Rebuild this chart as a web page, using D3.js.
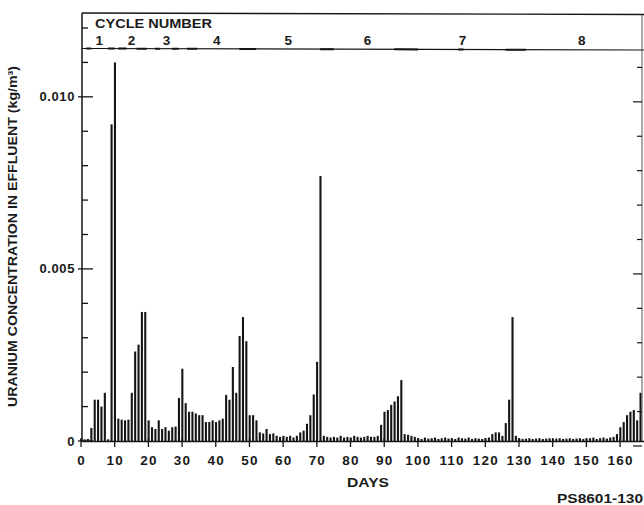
<!DOCTYPE html>
<html>
<head>
<meta charset="utf-8">
<script src="https://cdn.jsdelivr.net/npm/d3@7"></script>
<style>
  html, body { margin: 0; padding: 0; background: #fff; }
  svg { display: block; }
  text { font-family: "Liberation Sans", Arial, Helvetica, sans-serif; font-weight: bold; fill: #1a1a1a; }
</style>
</head>
<body>
<svg id="chart" width="644" height="505"></svg>
<script>
// ---- data ----
const days = d3.range(0, 167);
// uranium concentration in effluent, kg/m^3, one value per day
const conc = [
  0.00005, 0.00005, 0.00006, 0.00038, 0.0012, 0.0012, 0.0010, 0.0014, 0.00005, 0.0092,
  0.0110, 0.00065, 0.00062, 0.00060, 0.00062, 0.0014, 0.0026, 0.0028, 0.00375, 0.00375,
  0.00060, 0.00040, 0.00035, 0.00060, 0.00035, 0.00040, 0.00030, 0.00040, 0.00042, 0.00125,
  0.0021, 0.0011, 0.00085, 0.00085, 0.00080, 0.00075, 0.00075, 0.00055, 0.00055, 0.00060,
  0.00055, 0.00060, 0.00065, 0.00134, 0.0012, 0.00215, 0.0014, 0.00305, 0.0036, 0.0029,
  0.00075, 0.00075, 0.00060, 0.00025, 0.00022, 0.00035, 0.00020, 0.00022, 0.00015, 0.00012,
  0.00015, 0.00012, 0.00015, 0.00010, 0.00015, 0.00025, 0.00030, 0.00050, 0.00075, 0.00135,
  0.0023, 0.0077,
  0.00015, 0.00012, 0.00010, 0.00012, 0.00010, 0.00015, 0.00010, 0.00012, 0.00010, 0.00015,
  0.00012, 0.00010, 0.00012, 0.00015, 0.00012, 0.00012, 0.00015,
  0.00047, 0.00085, 0.00090, 0.00105, 0.00115, 0.00130, 0.00177, 0.00020, 0.00018, 0.00015, 0.00012,
  0.00008, 0.00006, 0.00010, 0.00007, 0.00008, 0.00010, 0.00006, 0.00008, 0.00010, 0.00007,
  0.00008, 0.00006, 0.00010, 0.00008, 0.00007, 0.00010, 0.00006, 0.00008, 0.00007, 0.00006,
  0.00008, 0.00010,
  0.00020, 0.00025, 0.00025, 0.00015, 0.00052, 0.00120, 0.00360, 0.00015,
  0.00008, 0.00006, 0.00007, 0.00008, 0.00006, 0.00007, 0.00008, 0.00006, 0.00007, 0.00008,
  0.00006, 0.00007, 0.00008, 0.00006, 0.00007, 0.00008, 0.00006, 0.00007, 0.00008, 0.00006,
  0.00007, 0.00008, 0.00010, 0.00006, 0.00008, 0.00010, 0.00007, 0.00010,
  0.00012, 0.00020, 0.00040, 0.00055, 0.00075, 0.00085, 0.00090, 0.00060, 0.00140
];
const xTicks = d3.range(0, 161, 10);
const yMinorTicks = d3.range(0, 13).map(i => i * 0.001);
const yMajorTicks = [0, 0.005, 0.010];
const yTickLabels = ["0", "0.005", "0.010"];
const cycleNumbers = ["1", "2", "3", "4", "5", "6", "7", "8"];
const cycleLabelDays = [5.4, 15.0, 25.4, 40.3, 61.5, 85.0, 113.2, 148.6];
const cycleDashes = [[1.5, 3], [8, 10], [11, 13.5], [16.5, 19.5], [22, 23.5], [27, 29],
                     [31.5, 34.5], [47, 52], [71, 75], [93, 100], [112, 113.5], [126, 132]];
const yTitle = "URANIUM CONCENTRATION IN EFFLUENT (kg/m³)";
const xTitle = "DAYS";
const headerTitle = "CYCLE NUMBER";
const figId = "PS8601-130";

// ---- layout ----
const svg = d3.select("#chart");
const x = d3.scaleLinear().domain([0, 167.1]).range([81, 644]);
const y = d3.scaleLinear().domain([0, 0.012]).range([441, 28]);
const ink = "#151515";
const axisX = 82, rightX = 642;
const frameTop = 13, bandY = 48.5;

// bars
svg.append("g").selectAll("rect").data(days).join("rect")
  .attr("x", d => x(d) - 0.8)
  .attr("width", 2.1)
  .attr("y", d => y(conc[d]))
  .attr("height", d => y(0) - y(conc[d]))
  .attr("fill", ink);

// frame lines
svg.append("line").attr("x1", axisX).attr("x2", 644).attr("y1", frameTop).attr("y2", frameTop + 1.5)
  .attr("stroke", ink).attr("stroke-width", 1.4);
svg.append("line").attr("x1", axisX).attr("x2", 644).attr("y1", bandY).attr("y2", bandY + 1.5)
  .attr("stroke", ink).attr("stroke-width", 1.2);
const bandAt = px => bandY + 1.5 * (px - axisX) / (644 - axisX);
svg.append("g").selectAll("line").data(cycleDashes).join("line")
  .attr("x1", d => x(d[0])).attr("x2", d => x(d[1]))
  .attr("y1", d => bandAt(x(d[0]))).attr("y2", d => bandAt(x(d[1])))
  .attr("stroke", ink).attr("stroke-width", 2);

// left axis
svg.append("line").attr("x1", axisX).attr("x2", axisX).attr("y1", frameTop).attr("y2", y(0) + 1)
  .attr("stroke", ink).attr("stroke-width", 1.5);
svg.append("g").selectAll("line").data(yMinorTicks).join("line")
  .attr("x1", d => yMajorTicks.includes(d) ? axisX - 4 : axisX)
  .attr("x2", d => yMajorTicks.includes(d) ? axisX + 11 : axisX + 6)
  .attr("y1", d => y(d)).attr("y2", d => y(d))
  .attr("stroke", ink).attr("stroke-width", 1.3);
svg.append("g").selectAll("text").data(yMajorTicks).join("text")
  .attr("x", 75).attr("y", d => y(d) + 4.5)
  .attr("text-anchor", "end").attr("font-size", 13).attr("letter-spacing", 0.6)
  .text((d, i) => yTickLabels[i]);

// right axis (partially visible at edge)
svg.append("line").attr("x1", rightX).attr("x2", rightX).attr("y1", frameTop + 1.5).attr("y2", y(0))
  .attr("stroke", "#555").attr("stroke-width", 1);
svg.append("g").selectAll("line").data(yMinorTicks.slice(0, 12)).join("line")
  .attr("x1", d => yMajorTicks.includes(d) ? rightX - 9 : rightX - 5).attr("x2", rightX)
  .attr("y1", d => y(d) + 5).attr("y2", d => y(d) + 5)
  .attr("stroke", ink).attr("stroke-width", 1.2);

// bottom axis
svg.append("line").attr("x1", axisX).attr("x2", 644).attr("y1", y(0) + 0.5).attr("y2", y(0) + 0.5)
  .attr("stroke", ink).attr("stroke-width", 1.6);
svg.append("g").selectAll("line").data(xTicks).join("line")
  .attr("x1", d => x(d)).attr("x2", d => x(d))
  .attr("y1", y(0) - 3).attr("y2", y(0) + 6)
  .attr("stroke", ink).attr("stroke-width", 1.3);
svg.append("g").selectAll("text").data(xTicks).join("text")
  .attr("x", d => x(d) + 0.5).attr("y", 465)
  .attr("text-anchor", "middle").attr("font-size", 13.5).attr("letter-spacing", 1.2)
  .text(d => String(d));

// header
svg.append("text").attr("x", 95).attr("y", 28).attr("font-size", 13.5)
  .attr("textLength", 117).attr("lengthAdjust", "spacingAndGlyphs").text(headerTitle);
svg.append("g").selectAll("text").data(cycleNumbers).join("text")
  .attr("x", (d, i) => x(cycleLabelDays[i])).attr("y", 45)
  .attr("text-anchor", "middle").attr("font-size", 13.5)
  .text(d => d);

// titles
svg.append("text").attr("transform", "translate(17,236.5) rotate(-90)")
  .attr("text-anchor", "middle").attr("font-size", 12.5)
  .attr("textLength", 341).attr("lengthAdjust", "spacingAndGlyphs")
  .text(yTitle);
svg.append("text").attr("x", 347).attr("y", 487).attr("font-size", 13)
  .attr("textLength", 42).attr("lengthAdjust", "spacingAndGlyphs").text(xTitle);
svg.append("text").attr("x", 557).attr("y", 503).attr("font-size", 12)
  .attr("textLength", 86).attr("lengthAdjust", "spacingAndGlyphs").text(figId);
</script>
</body>
</html>
